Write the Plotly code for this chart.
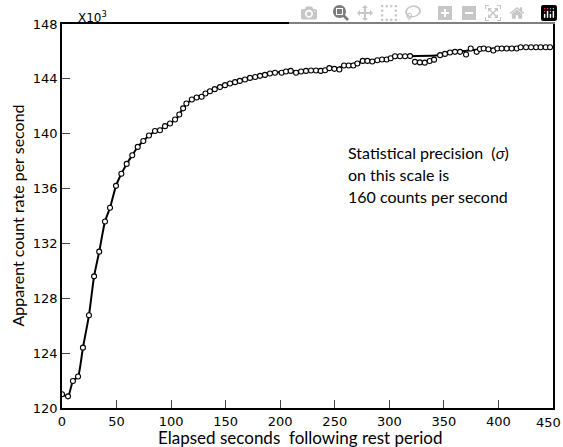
import plotly.graph_objects as go

# Measured points (elapsed seconds, apparent count rate in thousands/s)
t_pts = [0, 5.5, 10, 14.7, 19.2, 24.7, 29.4, 34.1, 39.4, 44, 49.5, 54.4, 59.3, 64.4,
         69.4, 74.5, 79.7, 85.2, 89.8, 94.4, 99, 103.6, 107.5, 111, 114, 119, 123.4,
         128, 131.5, 135.6, 140, 144.8, 149.4, 154, 158.6, 163, 167.7, 172.3, 177,
         181.5, 186, 190.6, 195.2, 201.3, 205.3, 209.6, 214.5, 219.1, 223.6, 228.2,
         232.8, 237.1, 241.1, 245, 249.6, 254.2, 258.5, 262.8, 267, 270.7, 275.6,
         279.9, 284.4, 289, 293.3, 297.6, 301.3, 305.2, 309.8, 314.4, 319, 323.5,
         328, 332.5, 337, 341, 346.5, 351, 355.6, 360.2, 364.8, 370.3, 374.6, 380.1,
         383, 386.5, 390.8, 395.3, 399, 403, 407.6, 412.2, 416.8, 420.4, 425.3,
         429.9, 434.5, 438.7, 443.3, 447.3]
v_pts = [121.0, 120.85, 121.97, 122.3, 124.4, 126.76, 129.6, 131.4, 133.6, 134.6,
         136.2, 137.08, 137.8, 138.43, 139.04, 139.47, 139.87, 140.2, 140.25, 140.55,
         140.74, 141.04, 141.4, 141.85, 142.2, 142.5, 142.64, 142.7, 142.93, 143.1,
         143.25, 143.4, 143.54, 143.66, 143.76, 143.85, 143.95, 144.07, 144.14,
         144.22, 144.29, 144.39, 144.44, 144.44, 144.54, 144.58, 144.44, 144.54,
         144.58, 144.61, 144.61, 144.58, 144.63, 144.78, 144.73, 144.68, 144.97,
         144.97, 144.97, 145.12, 145.31, 145.31, 145.27, 145.36, 145.41, 145.41,
         145.5, 145.65, 145.65, 145.65, 145.66, 145.24, 145.2, 145.18, 145.3, 145.4,
         145.73, 145.82, 145.92, 145.97, 145.97, 145.78, 146.21, 145.97, 146.18,
         146.21, 146.16, 146.07, 146.21, 146.21, 146.21, 146.21, 146.21, 146.31,
         146.31, 146.31, 146.31, 146.31, 146.31, 146.31]

# Smooth drawn curve
t_curve = [0, 5.5, 10, 14.7, 19.2, 24.7, 29.4, 34.1, 39.4, 44, 49.5, 54.4, 59.3, 64.4,
           69.4, 74.5, 79.7, 85, 90, 95, 100, 105, 110, 115, 120, 130, 140, 150, 160,
           170, 180, 190, 200, 220, 240, 250, 260, 270, 280, 290, 300, 310, 345, 360,
           380, 400, 420, 447]
v_curve = [121.0, 120.85, 121.97, 122.3, 124.4, 126.76, 129.6, 131.4, 133.6, 134.6,
           136.2, 137.08, 137.8, 138.43, 139.04, 139.47, 139.87, 140.15, 140.3, 140.55,
           140.8, 141.1, 141.75, 142.25, 142.5, 142.85, 143.25, 143.55, 143.8, 144.0,
           144.2, 144.38, 144.5, 144.58, 144.66, 144.75, 144.95, 145.15, 145.32,
           145.4, 145.5, 145.62, 145.72, 145.95, 146.13, 146.22, 146.3, 146.35]

x_ticks = [0, 50, 100, 150, 200, 250, 300, 350, 400, 450]
x_ticklabels = ["0", "50", "100", "150", "200", "250", "300", "350", "400", "450"]
y_ticks = [120, 124, 128, 132, 136, 140, 144, 148]

note_lines = ["Statistical precision  (<i>σ</i>)", "on this scale is", "160 counts per second"]
x_title = "Elapsed seconds  following rest period"
y_title = "Apparent count rate per second"

FONT = "Lato"
TICKFONT = "DejaVu Sans"

fig = go.Figure()
fig.add_trace(go.Scatter(x=t_curve, y=v_curve, mode="lines",
                         line=dict(color="black", width=2, shape="spline", smoothing=0.6),
                         hoverinfo="skip", showlegend=False))
fig.add_trace(go.Scatter(x=t_pts, y=v_pts, mode="markers",
                         marker=dict(symbol="circle", size=5, color="white",
                                     line=dict(color="black", width=1.1)),
                         showlegend=False))

annots = [
    dict(x=0, y=148, xref="x", yref="y", text="X10<sup>3</sup>", showarrow=False,
         xanchor="left", yanchor="bottom", xshift=14, yshift=-3,
         font=dict(family=TICKFONT, size=12)),
    # last x tick label, right-aligned so it stays inside the page
    dict(x=x_ticks[-1], y=0, xref="x", yref="paper", text=x_ticklabels[-1],
         showarrow=False, xanchor="right", yanchor="top", xshift=10, yshift=-5,
         font=dict(family=TICKFONT, size=13)),
    dict(x=0.485, y=0, xref="paper", yref="paper", text=x_title, showarrow=False,
         xanchor="center", yanchor="top", yshift=-17,
         font=dict(family=FONT, size=17)),
    dict(x=0, y=0.5, xref="paper", yref="paper", text=y_title, showarrow=False,
         textangle=-90, xanchor="right", yanchor="middle", xshift=-34,
         font=dict(family=FONT, size=16)),
]
for i, line in enumerate(note_lines):
    annots.append(dict(x=0.578, y=0.67, xref="paper", yref="paper", text=line,
                       showarrow=False, xanchor="left", yanchor="middle",
                       yshift=-2 - 22 * i, font=dict(family=FONT, size=16)))

fig.update_layout(
    width=563, height=447,
    margin=dict(l=62, r=10, t=24, b=39),
    paper_bgcolor="white", plot_bgcolor="white",
    font=dict(family=FONT, color="black", size=13),
    xaxis=dict(range=[0, 450], tickvals=x_ticks,
               ticktext=x_ticklabels[:-1] + [""], ticks="inside", ticklen=8,
               tickwidth=1.3, showline=True, linewidth=1.8, linecolor="black",
               mirror=True, showgrid=False, zeroline=False, automargin=False,
               tickfont=dict(family=TICKFONT, size=13)),
    yaxis=dict(range=[120, 148], tickvals=y_ticks, ticks="inside", ticklen=8,
               tickwidth=1.3, showline=True, linewidth=1.8, linecolor="black",
               mirror=True, showgrid=False, zeroline=False, automargin=False,
               tickfont=dict(family=TICKFONT, size=13)),
    annotations=annots,
)

# remove the default page margin and scrollbars so the figure fills the window exactly
fig.write_html("out.html",
               post_script="document.body.style.margin='0';"
                           "document.body.style.overflow='hidden';"
                           "document.documentElement.style.overflow='hidden';")
